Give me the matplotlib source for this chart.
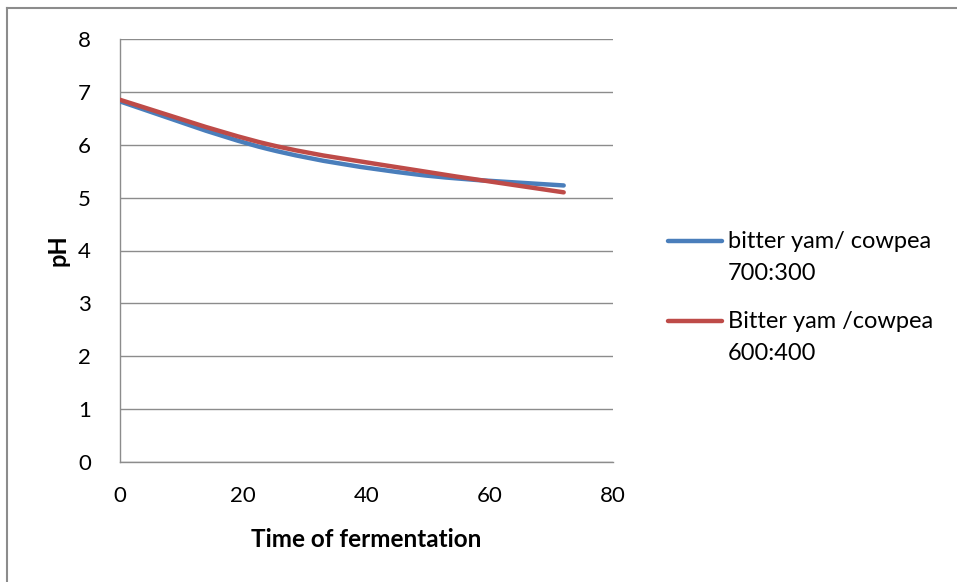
import matplotlib
matplotlib.use("Agg")
import matplotlib.pyplot as plt
from matplotlib.lines import Line2D
from matplotlib.patches import PathPatch
from matplotlib.path import Path

# fermentation time (h) and pH readings
hours = [0, 24, 48, 72]
ph_700_300 = [6.82, 5.92, 5.44, 5.23]
ph_600_400 = [6.85, 6.01, 5.52, 5.10]
labels = ["bitter yam/ cowpea\n700:300", "Bitter yam /cowpea\n600:400"]
colors = ["#4A7EBB", "#BE4B48"]

plt.rcParams["font.family"] = ["Lato", "DejaVu Sans"]

W, H = 957, 582


def smooth_path(xs, ys):
    # Excel-style smoothed line: cubic Bezier through each data point
    pts = list(zip(xs, ys))
    verts = [pts[0]]
    codes = [Path.MOVETO]
    n = len(pts)
    for i in range(n - 1):
        p0 = pts[max(i - 1, 0)]
        p1 = pts[i]
        p2 = pts[i + 1]
        p3 = pts[min(i + 2, n - 1)]
        c1 = (p1[0] + (p2[0] - p0[0]) / 6, p1[1] + (p2[1] - p0[1]) / 6)
        c2 = (p2[0] - (p3[0] - p1[0]) / 6, p2[1] - (p3[1] - p1[1]) / 6)
        verts += [c1, c2, p2]
        codes += [Path.CURVE4] * 3
    return Path(verts, codes)


fig = plt.figure(figsize=(W / 100, H / 100), dpi=100)
ax = fig.add_axes([120 / W, 1 - 462 / H, 493 / W, 423 / H])

for ys, col in zip([ph_700_300, ph_600_400], colors):
    patch = PathPatch(smooth_path(hours, ys), facecolor="none", edgecolor=col,
                      lw=3.2, capstyle="round", joinstyle="round", zorder=3)
    ax.add_patch(patch)

ax.set_xlim(0, 80)
ax.set_ylim(0, 8)
ax.set_xticks(range(0, 81, 20))
ax.set_yticks(range(0, 9))
ax.grid(axis="y", color="#8c8c8c", lw=1.0)
ax.set_axisbelow(True)
for side in ["top", "right"]:
    ax.spines[side].set_visible(False)
for side in ["left", "bottom"]:
    ax.spines[side].set_color("#8c8c8c")
    ax.spines[side].set_linewidth(1.0)
ax.tick_params(length=0, labelsize=16, colors="#000000")
ax.tick_params(axis="x", pad=17)
ax.tick_params(axis="y", pad=21)

ax.set_xlabel("Time of fermentation", fontsize=17.5, fontweight="bold", labelpad=16)
ax.set_ylabel("pH", fontsize=17, fontweight="bold", labelpad=6)

# legend drawn by hand so the key line sits on the first text line
for i, (lab, col) in enumerate(zip(labels, colors)):
    y0 = 241 + 80 * i
    fig.add_artist(Line2D([668 / W, 722 / W], [1 - y0 / H, 1 - y0 / H], color=col,
                          lw=3.2, solid_capstyle="round"))
    for j, part in enumerate(lab.split("\n")):
        fig.text(728 / W, 1 - (y0 + 32 * j) / H, part, fontsize=17,
                 ha="left", va="center")

# outer chart border (only left and top edges visible)
fig.add_artist(Line2D([7 / W, 7 / W], [0, 1 - 8 / H], color="#8c8c8c", lw=1.5))
fig.add_artist(Line2D([7 / W, 1], [1 - 8 / H, 1 - 8 / H], color="#8c8c8c", lw=1.5))

fig.savefig("out.png", dpi=100)
